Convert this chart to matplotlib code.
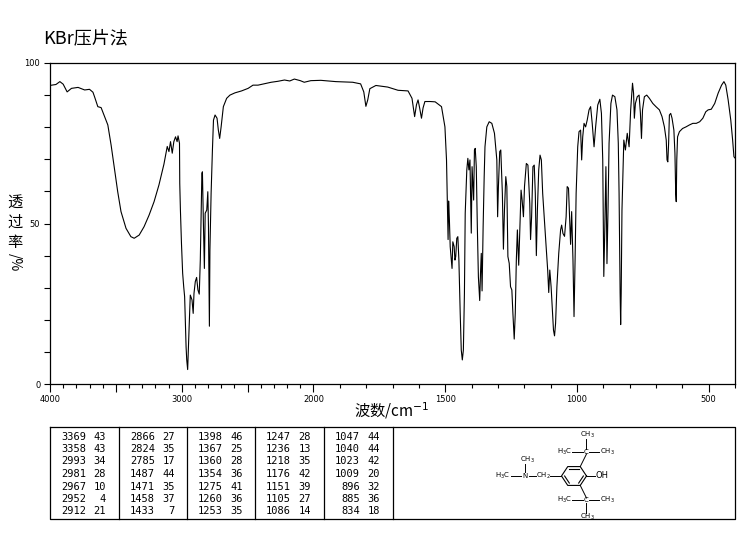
import numpy as np
import matplotlib
matplotlib.use("Agg")
import matplotlib.pyplot as plt

plt.rcParams["font.family"] = ["Noto Sans CJK SC", "DejaVu Sans"]

# spectrum (wavenumber in cm-1, transmittance in %)
wavenumber = [
    4000, 3987, 3955, 3925, 3900, 3870, 3837, 3787, 3737, 3700, 3674, 3662,
    3637, 3612, 3586, 3561, 3536, 3511, 3486, 3461, 3423, 3386, 3361, 3323,
    3286, 3248, 3210, 3173, 3135, 3110, 3097, 3085, 3072, 3060, 3047, 3035,
    3028, 3017, 3015, 3010, 3002, 2993, 2985, 2978, 2967, 2962, 2955, 2950,
    2942, 2935, 2922, 2913, 2907, 2897, 2887, 2877, 2867, 2859, 2852, 2847,
    2843, 2835, 2828, 2822, 2810, 2802, 2797, 2790, 2786, 2777, 2767, 2759,
    2747, 2732, 2722, 2712, 2701, 2684, 2659, 2634, 2596, 2546, 2496, 2459,
    2421, 2321, 2270, 2220, 2180, 2145, 2100, 2070, 2020, 1972, 1915, 1851,
    1821, 1809, 1801, 1794, 1786, 1763, 1718, 1679, 1641, 1626, 1616, 1609,
    1603, 1597, 1590, 1584, 1577, 1557, 1538, 1514, 1501, 1495, 1492, 1489,
    1487, 1484, 1481, 1474, 1471, 1466, 1463, 1460, 1456, 1452, 1448, 1443,
    1439, 1435, 1431, 1427, 1424, 1418, 1414, 1410, 1406, 1401, 1398, 1392,
    1389, 1386, 1382, 1378, 1374, 1369, 1366, 1363, 1360, 1356, 1352, 1349,
    1342, 1333, 1323, 1313, 1304, 1301, 1298, 1293, 1289, 1283, 1279, 1275,
    1270, 1266, 1262, 1257, 1252, 1247, 1243, 1238, 1234, 1230, 1226, 1221,
    1212, 1208, 1203, 1199, 1192, 1186, 1179, 1176, 1172, 1167, 1162, 1158,
    1154, 1150, 1145, 1140, 1135, 1130, 1122, 1116, 1111, 1107, 1103, 1098,
    1094, 1089, 1085, 1081, 1076, 1069, 1062, 1058, 1053, 1047, 1041, 1037,
    1032, 1028, 1024, 1020, 1015, 1011, 1007, 1003, 997, 992, 986, 982,
    978, 973, 967, 961, 954, 948, 942, 935, 929, 921, 913, 907,
    902, 898, 894, 890, 888, 886, 882, 878, 871, 865, 856, 848,
    843, 840, 836, 834, 832, 829, 822, 816, 809, 802, 796, 789,
    785, 782, 778, 771, 764, 759, 755, 751, 744, 735, 725, 712,
    700, 687, 677, 668, 661, 658, 655, 652, 649, 644, 639, 632,
    628, 625, 623, 621, 618, 611, 599, 586, 573, 560, 547, 534,
    522, 511, 502, 490, 477, 464, 451, 442, 435, 426, 416, 409,
    404, 400,
]
transmittance = [
    93.0, 93.1, 93.3, 94.2, 93.4, 91.0, 92.1, 92.4, 91.6, 91.8, 90.9, 89.5,
    86.4, 86.1, 83.3, 80.7, 74.4, 67.2, 59.9, 53.7, 48.5, 45.9, 45.4, 46.4,
    49.0, 52.6, 56.8, 62.0, 68.5, 74.0, 72.4, 75.5, 71.9, 75.5, 77.0, 75.5,
    77.3, 75.0, 62.5, 54.2, 43.8, 34.5, 30.3, 27.2, 11.6, 7.5, 4.5, 10.6,
    19.9, 27.7, 26.2, 22.0, 28.2, 31.9, 33.2, 29.3, 28.0, 38.6, 54.2, 65.6,
    66.1, 49.0, 36.0, 53.2, 54.2, 59.9, 49.0, 18.0, 41.7, 59.4, 72.9, 82.2,
    83.8, 82.8, 79.1, 76.5, 80.1, 86.4, 89.0, 90.0, 90.7, 91.3, 92.1, 93.1,
    93.1, 94.0, 94.3, 94.7, 94.4, 95.0, 94.5, 94.0, 94.5, 94.6, 94.2, 94.0,
    93.5, 91.0, 86.5, 88.5, 92.0, 93.0, 92.5, 91.5, 91.3, 89.0, 83.3, 87.0,
    88.5, 86.0, 82.8, 86.0, 88.0, 88.0, 87.9, 86.4, 80.1, 69.8, 57.3, 45.0,
    57.0, 51.0, 42.8, 36.0, 44.3, 42.8, 38.6, 39.7, 45.4, 45.9, 38.6, 22.0,
    10.6, 7.5, 10.6, 28.2, 53.2, 66.7, 70.3, 66.7, 69.8, 47.0, 67.7, 57.3,
    72.9, 73.4, 67.7, 49.0, 33.4, 26.0, 34.5, 40.7, 29.0, 49.0, 64.6, 73.9,
    80.1, 81.7, 81.2, 78.1, 69.8, 52.1, 61.5, 72.4, 72.9, 59.4, 42.0, 54.2,
    64.6, 61.5, 39.7, 37.6, 30.3, 29.3, 22.0, 14.0, 22.0, 38.6, 48.0, 37.0,
    60.4, 57.3, 52.1, 61.5, 68.7, 68.2, 56.3, 45.0, 52.1, 67.7, 68.2, 59.4,
    40.0, 54.2, 66.7, 71.3, 69.8, 59.4, 49.0, 41.7, 35.5, 28.5, 35.5, 30.3,
    24.1, 16.8, 15.0, 18.9, 30.3, 40.7, 48.0, 49.5, 46.9, 46.0, 52.1, 61.5,
    61.0, 52.1, 43.5, 53.7, 38.6, 21.0, 38.6, 59.4, 73.9, 78.6, 79.1, 69.8,
    77.0, 81.2, 80.1, 82.2, 85.4, 86.4, 81.2, 73.9, 80.1, 86.9, 88.7, 84.3,
    69.8, 33.5, 49.0, 67.7, 54.2, 37.5, 54.2, 75.0, 87.4, 90.0, 89.5, 85.4,
    75.0, 59.4, 28.2, 18.5, 28.2, 54.2, 76.0, 72.9, 78.1, 73.9, 85.4, 93.7,
    90.6, 82.8, 87.4, 89.5, 90.0, 84.3, 76.5, 85.4, 89.5, 90.0, 89.0, 87.4,
    86.4, 85.4, 83.3, 80.1, 76.0, 69.8, 69.2, 75.0, 83.8, 84.3, 82.8, 79.1,
    71.9, 59.4, 56.8, 69.8, 77.0, 78.6, 79.6, 80.1, 80.7, 81.2, 81.2, 81.7,
    82.8, 84.8, 85.4, 85.6, 87.4, 90.6, 93.1, 94.2, 93.1, 88.5, 82.2, 76.0,
    70.8, 70.4,
]

# peak table
peak_wn = [3369, 3358, 2993, 2981, 2967, 2952, 2912,
           2866, 2824, 2785, 1487, 1471, 1458, 1433,
           1398, 1367, 1360, 1354, 1275, 1260, 1253,
           1247, 1236, 1218, 1176, 1151, 1105, 1086,
           1047, 1040, 1023, 1009, 896, 885, 834]
peak_t = [43, 43, 34, 28, 10, 4, 21,
          27, 35, 17, 44, 35, 37, 7,
          46, 25, 28, 36, 41, 36, 35,
          28, 13, 35, 42, 39, 27, 14,
          44, 44, 42, 20, 32, 36, 18]

major_x = [4000, 3500, 3000, 2500, 2000, 1500, 1000, 500]
major_x_labels = ["4000", "", "3000", "", "2000", "1500", "1000", "500"]


def fwd(w):
    w = np.asarray(w, dtype=float)
    # scale doubles below 2000 cm-1
    return np.where(w >= 2000, w, 2 * w - 2000)


def inv(u):
    u = np.asarray(u, dtype=float)
    return np.where(u >= 2000, u, (u + 2000) / 2)


W, H = 748, 539
fig = plt.figure(figsize=(W / 100, H / 100), dpi=100)
ax = fig.add_axes([50 / W, 1 - 384 / H, 685 / W, 321 / H])

ax.plot(wavenumber, transmittance, color="black", lw=0.8)
ax.set_xscale("function", functions=(fwd, inv))
ax.set_xlim(4000, 400)
ax.set_ylim(0, 100)

ax.set_xticks(major_x)
ax.set_xticklabels(major_x_labels, fontsize=6, family="DejaVu Sans")
ax.set_xticks(np.arange(400, 4001, 100), minor=True)
ax.set_yticks([0, 50, 100])
ax.set_yticklabels(["0", "50", "100"], fontsize=6, family="DejaVu Sans")
ax.set_yticks(np.arange(0, 101, 10), minor=True)
ax.tick_params(axis="x", which="major", direction="out", length=6, width=0.8, pad=2)
ax.tick_params(axis="x", which="minor", direction="out", length=3, width=0.8)
ax.tick_params(axis="y", which="both", direction="out", length=4, width=0.8, pad=3)
for s in ax.spines.values():
    s.set_linewidth(0.9)

# texts
fig.text(43 / W, 1 - 38 / H, "KBr压片法", fontsize=13, va="center", ha="left")
fig.text(392 / W, 1 - 411 / H, "波数/cm$^{-1}$", fontsize=11, va="center", ha="center")
for i, ch in enumerate("透过率"):
    fig.text(15 / W, 1 - (202 + i * 20) / H, ch, fontsize=11, va="center", ha="center")
fig.text(15 / W, 1 - 262 / H, "/%", fontsize=10, va="center", ha="center", rotation=-90)

# table + structure drawn in pixel coordinates
tab = fig.add_axes([0, 0, 1, 1])
tab.set_xlim(0, W)
tab.set_ylim(H, 0)
tab.axis("off")

top, bot = 427, 519
edges = [50, 119, 187, 255, 324, 393]
tab.plot([50, 735, 735, 50, 50], [top, top, bot, bot, top], color="black", lw=0.9)
for xe in edges[1:]:
    tab.plot([xe, xe], [top, bot], color="black", lw=0.9)

for k, (w, t) in enumerate(zip(peak_wn, peak_t)):
    col, row = divmod(k, 7)
    x0 = edges[col]
    y = 436.5 + row * 12.5
    tab.text(x0 + 36, y, str(w), ha="right", va="center", fontsize=7.5,
             family="DejaVu Sans Mono")
    tab.text(x0 + 56, y, str(t), ha="right", va="center", fontsize=7.5,
             family="DejaVu Sans Mono")

# molecule sketch
cx, cy, r = 574, 476, 12.5
ang = np.deg2rad(np.arange(0, 361, 60))
hx, hy = cx + r * np.cos(ang), cy + r * np.sin(ang) * 0.87
tab.plot(hx, hy, color="black", lw=0.8)
for a0, a1 in [(0, 1), (2, 3), (4, 5)]:
    tab.plot([cx + 0.75 * (hx[a0] - cx), cx + 0.75 * (hx[a1] - cx)],
             [cy + 0.75 * (hy[a0] - cy), cy + 0.75 * (hy[a1] - cy)],
             color="black", lw=0.8)

kw = dict(color="black", lw=0.7)
sfs = 5
# OH
tab.plot([cx + r, 595], [cy, cy], **kw)
tab.text(596, cy, "OH", fontsize=sfs + 1, va="center", ha="left", family="DejaVu Sans")
# tert-butyl groups
for sgn in (-1, 1):
    vx, vy = hx[5] if sgn < 0 else hx[1], hy[5] if sgn < 0 else hy[1]
    qx, qy = 586.5, cy + sgn * 24
    tab.plot([vx, qx], [vy, qy - sgn * 2], **kw)
    tab.text(qx, qy, "C", fontsize=sfs, va="center", ha="center", family="DejaVu Sans")
    tab.plot([qx - 14, qx - 3], [qy, qy], **kw)
    tab.plot([qx + 3, qx + 13], [qy, qy], **kw)
    tab.plot([qx, qx], [qy + sgn * 3, qy + sgn * 13], **kw)
    tab.text(qx - 14, qy, "H$_3$C", fontsize=sfs, va="center", ha="right", family="DejaVu Sans")
    tab.text(qx + 14, qy, "CH$_3$", fontsize=sfs, va="center", ha="left", family="DejaVu Sans")
    tab.text(qx + 1, qy + sgn * 17, "CH$_3$", fontsize=sfs, va="center", ha="center",
             family="DejaVu Sans")
# CH2-N(CH3)2
tab.plot([cx - r, 550], [cy, cy], **kw)
tab.text(543, cy, "CH$_2$", fontsize=sfs, va="center", ha="center", family="DejaVu Sans")
tab.plot([529, 536], [cy, cy], **kw)
tab.text(525, cy, "N", fontsize=sfs, va="center", ha="center", family="DejaVu Sans")
tab.plot([511, 521], [cy, cy], **kw)
tab.text(510, cy, "H$_3$C", fontsize=sfs, va="center", ha="right", family="DejaVu Sans")
tab.plot([525, 525], [472, 464], **kw)
tab.text(527, 460, "CH$_3$", fontsize=sfs, va="center", ha="center", family="DejaVu Sans")

fig.savefig("out.png", dpi=100)
